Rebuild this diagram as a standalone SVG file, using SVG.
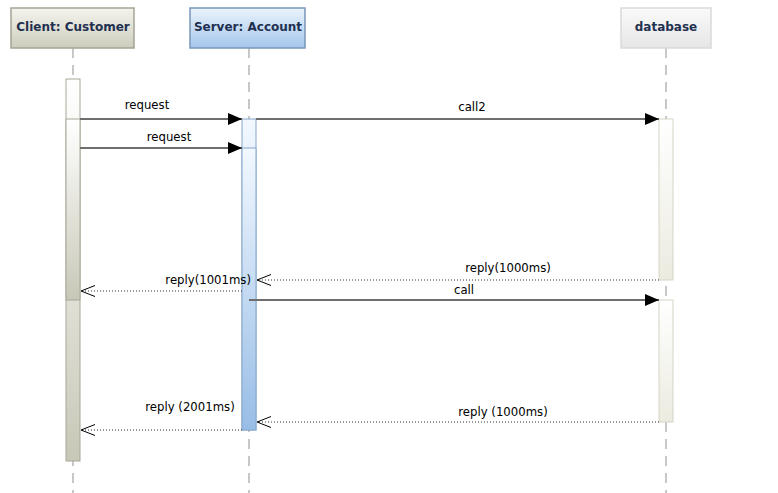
<svg xmlns="http://www.w3.org/2000/svg" width="778" height="493" viewBox="0 0 778 493">
<defs>
<linearGradient id="gClient" x1="0" y1="0" x2="0" y2="1"><stop offset="0" stop-color="#f4f4ee"/><stop offset="1" stop-color="#cdcdbd"/></linearGradient>
<linearGradient id="gServer" x1="0" y1="0" x2="0" y2="1"><stop offset="0" stop-color="#eaf3fc"/><stop offset="1" stop-color="#a4c6ec"/></linearGradient>
<linearGradient id="gDb" x1="0" y1="0" x2="0" y2="1"><stop offset="0" stop-color="#fafafa"/><stop offset="1" stop-color="#e6e6e6"/></linearGradient>
<linearGradient id="aClient" x1="0" y1="0" x2="0" y2="1"><stop offset="0" stop-color="#ffffff"/><stop offset="1" stop-color="#c8c8b8"/></linearGradient>
<linearGradient id="aServer" x1="0" y1="0" x2="0" y2="1"><stop offset="0" stop-color="#f2f8ff"/><stop offset="1" stop-color="#98bde6"/></linearGradient>
<linearGradient id="aDb" x1="0" y1="0" x2="0" y2="1"><stop offset="0" stop-color="#ffffff"/><stop offset="1" stop-color="#ecebe0"/></linearGradient>
<marker id="filled" markerWidth="14" markerHeight="12" refX="14" refY="6" orient="auto" markerUnits="userSpaceOnUse"><path d="M0,0 L14,6 L0,12 Z" fill="#000"/></marker>
<marker id="open" markerWidth="16" markerHeight="12" refX="15" refY="6" orient="auto" markerUnits="userSpaceOnUse"><path d="M1,0.5 L15,6 L1,11.5" fill="none" stroke="#000" stroke-width="1"/></marker>
</defs>
<style>
.head text{font-family:"DejaVu Sans",sans-serif;font-weight:bold;font-size:12px;fill:#1f3050;text-anchor:middle}
.life{stroke:#c8c8c8;stroke-width:2;stroke-dasharray:10,7}
.lbl{font-family:"DejaVu Sans",sans-serif;font-size:11.7px;fill:#000}
.sync{stroke:#6e6e6e;stroke-width:2;fill:none;marker-end:url(#filled)}
.ret{stroke:#333;stroke-width:1;stroke-dasharray:1,2;fill:none;marker-end:url(#open)}
</style>
<rect width="778" height="493" fill="#fff"/>
<g id="lifelines">
<line class="life" x1="73" y1="48" x2="73" y2="493"/>
<line class="life" x1="249" y1="48" x2="249" y2="493"/>
<line class="life" x1="666" y1="48" x2="666" y2="493"/>
</g>
<g id="client" class="head">
<rect x="11" y="8" width="123" height="40" fill="url(#gClient)" stroke="#a4a494" stroke-width="1.5"/>
<text x="73" y="31">Client: Customer</text>
<rect x="66" y="79" width="14" height="382" fill="url(#aClient)" stroke="#a8a898"/>
<rect x="66" y="119" width="14" height="181" fill="url(#aClient)" stroke="#a8a898"/>
</g>
<g id="server" class="head">
<rect x="190" y="8" width="115" height="40" fill="url(#gServer)" stroke="#7896b8" stroke-width="1.5"/>
<text x="248" y="31">Server: Account</text>
<rect x="242" y="119" width="14" height="311" fill="url(#aServer)" stroke="#86a6c8"/>
<rect x="242" y="148" width="14" height="282" fill="url(#aServer)" stroke="#86a6c8"/>
</g>
<g id="database" class="head">
<rect x="621" y="8" width="90" height="40" fill="url(#gDb)" stroke="#dadada" stroke-width="1.5"/>
<text x="666" y="31">database</text>
<rect x="659" y="119" width="14" height="161" fill="url(#aDb)" stroke="#d6d5c6"/>
<rect x="659" y="300" width="14" height="122" fill="url(#aDb)" stroke="#d6d5c6"/>
</g>
<g id="connectors">
<line class="sync" x1="80" y1="119" x2="242" y2="119"/>
<text class="lbl" x="147" y="109" text-anchor="middle">request</text>
<line class="sync" x1="256" y1="119" x2="659" y2="119"/>
<text class="lbl" x="472" y="111" text-anchor="middle">call2</text>
<line class="sync" x1="80" y1="148" x2="242" y2="148"/>
<text class="lbl" x="169" y="141" text-anchor="middle">request</text>
<line class="ret" x1="659" y1="280" x2="257" y2="280"/>
<text class="lbl" x="508" y="272" text-anchor="middle">reply(1000ms)</text>
<line class="ret" x1="242" y1="291" x2="81" y2="291"/>
<text class="lbl" x="251" y="284" text-anchor="end">reply(1001ms)</text>
<line class="sync" x1="249" y1="300" x2="659" y2="300"/>
<text class="lbl" x="464" y="294" text-anchor="middle">call</text>
<line class="ret" x1="659" y1="422" x2="257" y2="422"/>
<text class="lbl" x="503" y="416" text-anchor="middle">reply (1000ms)</text>
<line class="ret" x1="242" y1="430" x2="81" y2="430"/>
<text class="lbl" x="190" y="411" text-anchor="middle">reply (2001ms)</text>
</g>
</svg>
